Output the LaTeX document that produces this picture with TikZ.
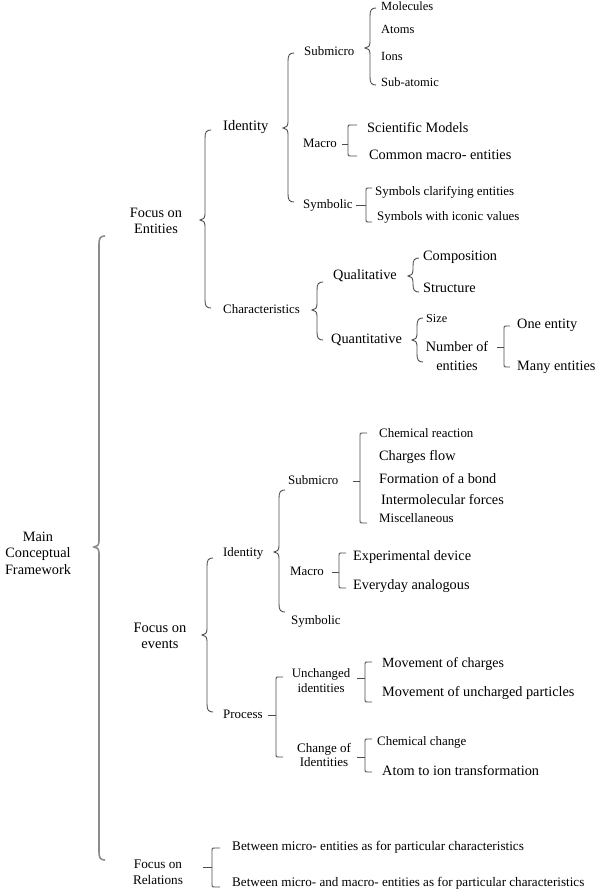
\documentclass[tikz,border=0pt]{standalone}
\usepackage{fontspec}
\setmainfont{Liberation Serif}
\newcommand\szL{\fontsize{14.3}{16.5}\selectfont}
\newcommand\szS{\fontsize{12.9}{15}\selectfont}
\newcommand\szT{\fontsize{12.5}{15}\selectfont}
% curly brace: x, ytop, ymid, ybot
\newcommand\cbr[5][brc]{%
  \draw[#1] (#2+6,#3) .. controls (#2+1.5,#3) and (#2,#3+2) .. (#2,#3+8)
    -- (#2,#4-6) .. controls (#2,#4-2) and (#2-2,#4) .. (#2-5,#4)
    .. controls (#2-2,#4) and (#2,#4+2) .. (#2,#4+6)
    -- (#2,#5-8) .. controls (#2,#5-2) and (#2+1.5,#5) .. (#2+6,#5);}
% square bracket: xtick, x, ytop, ytick, ybot, xend
\newcommand\sbr[6]{%
  \draw[brc] (#1,#4) -- (#2,#4);
  \draw[brc] (#6,#3) -- (#2+2.5,#3) .. controls (#2,#3) .. (#2,#3+2.5)
    -- (#2,#5-2.5) .. controls (#2,#5) .. (#2+2.5,#5) -- (#6,#5);}
\begin{document}
\begin{tikzpicture}[x=1pt,y=-1pt,
  brc/.style={draw=black!70,line width=0.9pt},
  mainbrc/.style={draw=black!45,line width=1.6pt},
  lbl/.style={inner sep=0pt,anchor=west,text height=0.66em,text depth=0em,text=black},
  big/.style={lbl,font=\szL},
  sml/.style={lbl,font=\szS},
  tny/.style={lbl,font=\szT},
  multi/.style={inner sep=0pt,anchor=center,align=center,text=black}]
\useasboundingbox (0,0) rectangle (600,893);

% ---------- Main ----------
\node[multi,font=\szL] (main) at (38,553) {Main\\Conceptual\\Framework};
\cbr[mainbrc]{99}{236}{547}{860}

% ---------- Focus on Entities ----------
\node[multi,font=\fontsize{14.3}{16}\selectfont] (focent) at (156,221) {Focus on\\Entities};
\cbr{205}{130}{220}{308}

\node[big,font=\fontsize{14.5}{16}\selectfont] (identE) at (223,127) {Identity};
\cbr{288}{53}{128}{202}

\node[sml] (submE) at (304,52) {Submicro};
\cbr{370}{8}{48}{85}
\node[tny] (molec) at (381,7) {Molecules};
\node[tny] (atoms) at (381,30) {Atoms};
\node[tny] (ions) at (381,57) {Ions};
\node[tny] (subat) at (381,83) {Sub-atomic};

\node[sml] (macroE) at (303,144) {Macro};
\sbr{342}{348}{125}{144}{156}{357}
\node[big] (scimod) at (367,129) {Scientific Models};
\node[big] (commac) at (369,156) {Common macro- entities};

\node[sml] (symbE) at (303,205) {Symbolic};
\sbr{356}{366}{188}{205}{222}{372}
\node[sml] (symclar) at (375,192) {Symbols clarifying entities};
\node[sml] (symicon) at (377,217) {Symbols with iconic values};

\node[sml] (charac) at (223,310) {Characteristics};
\cbr{317}{282}{310}{340}
\node[big] (qual) at (333,276) {Qualitative};
\node[big] (quant) at (331,340) {Quantitative};
\cbr{413}{258}{276}{292}
\node[big] (compo) at (423,257) {Composition};
\node[big] (struct) at (423,289) {Structure};
\cbr{417}{318}{340}{362}
\node[tny,font=\fontsize{12.2}{14}\selectfont] (size) at (426,319) {Size};
\node[multi,font=\fontsize{14.3}{19}\selectfont] (numb) at (457,356) {Number of\\entities};
\sbr{497}{504}{326}{347}{367}{510}
\node[big] (onee) at (517,325) {One entity};
\node[big] (manye) at (517,367) {Many entities};

% ---------- Focus on events ----------
\node[multi,font=\fontsize{14.5}{16}\selectfont] (focev) at (160,636) {Focus on\\events};
\cbr{207}{558}{635}{712}

\node[sml] (identV) at (223,553) {Identity};
\cbr{279}{490}{552}{612}

\node[sml] (submV) at (288,481) {Submicro};
\sbr{353}{360}{433}{481}{523}{367}
\node[sml] (chemr) at (379,434) {Chemical reaction};
\node[big] (charg) at (379,457) {Charges flow};
\node[big] (formb) at (379,480) {Formation of a bond};
\node[big] (interm) at (381,501) {Intermolecular forces};
\node[sml] (misc) at (379,519) {Miscellaneous};

\node[sml] (macroV) at (290,572) {Macro};
\sbr{332}{339}{553}{572}{588}{346}
\node[big] (expdev) at (353,557) {Experimental device};
\node[big] (everyd) at (353,586) {Everyday analogous};

\node[sml] (symbV) at (291,621) {Symbolic};

\node[sml] (proc) at (223,715) {Process};
\sbr{268}{276}{677}{715}{757}{283}

\node[multi,font=\fontsize{12.8}{15}\selectfont] (unch) at (321,681) {Unchanged\\identities};
\sbr{357}{365}{662}{678}{702}{372}
\node[big,font=\fontsize{14}{16}\selectfont] (movch) at (382,664) {Movement of charges};
\node[big] (movun) at (382,693) {Movement of uncharged particles};

\node[multi,font=\fontsize{13}{14.5}\selectfont] (chgid) at (324,755) {Change of\\Identities};
\sbr{357}{365}{739}{757}{772}{372}
\node[sml] (chemch) at (377,742) {Chemical change};
\node[big] (atomion) at (382,772) {Atom to ion transformation};

% ---------- Focus on Relations ----------
\node[multi,font=\fontsize{13.2}{16}\selectfont] (focrel) at (158,872) {Focus on\\Relations};
\sbr{203}{212}{848}{867}{887}{220}
\node[sml,font=\fontsize{13.2}{15}\selectfont] (betw1) at (232,847) {Between micro- entities as for particular characteristics};
\node[sml,font=\fontsize{13.1}{15}\selectfont] (betw2) at (232,883) {Between micro- and macro- entities as for particular characteristics};
\end{tikzpicture}
\end{document}
